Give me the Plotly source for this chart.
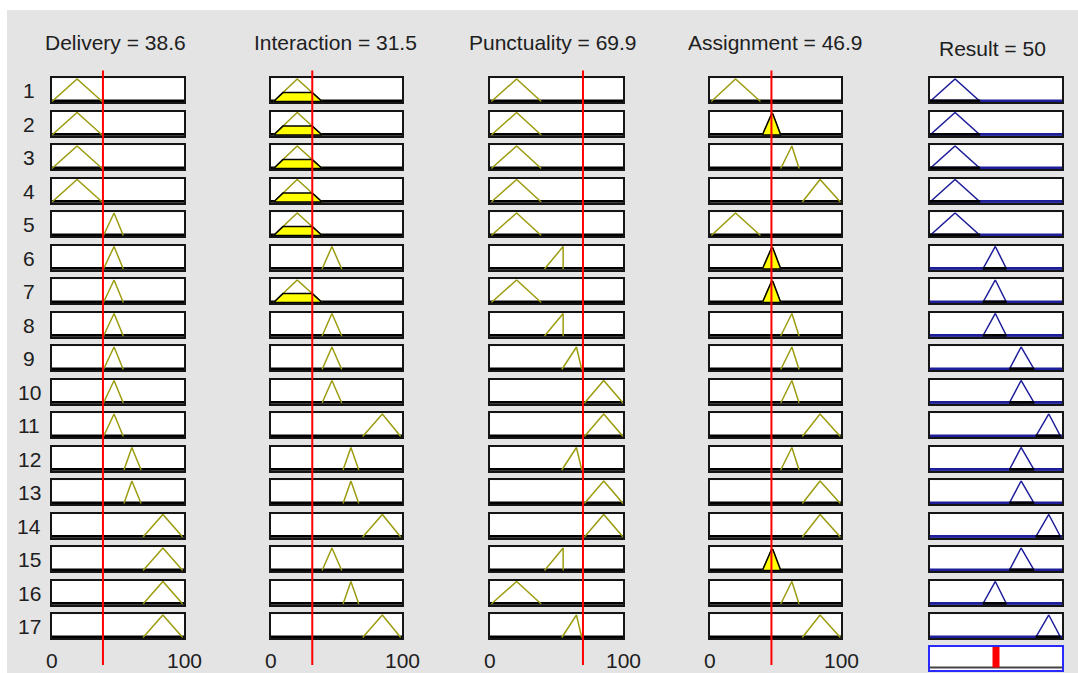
import plotly.graph_objects as go

# ---- fuzzy system description -------------------------------------------
INPUT_NAMES = ["Delivery", "Interaction", "Punctuality", "Assignment"]
INPUT_VALUES = [38.6, 31.5, 69.9, 46.9]
OUTPUT_NAME = "Result"
OUTPUT_VALUE = 50

# triangular membership functions [a, b, c]
delivery_mfs = {"low": [0, 19, 38], "mid": [39, 47, 54], "good": [54.5, 60.5, 67.5], "high": [69, 84, 99]}
interaction_mfs = {"low": [2, 20, 39], "mid": [39, 46.5, 54], "good": [55, 61, 67], "high": [70, 85, 99]}
punctuality_mfs = {"low": [1, 20, 38.5], "mid": [41, 55, 55], "good": [54, 65, 69], "high": [71, 85.5, 100]}
assignment_mfs = {"low": [1, 19.5, 38.5], "mid": [40, 47.5, 54], "good": [54, 62.5, 68], "high": [70.5, 84, 99.5]}
result_mfs = {"low": [0, 19, 38], "mid": [40, 49.5, 58], "good": [60, 69, 79], "high": [80, 90, 99]}

# rule base (one entry per rule, 17 rules)
delivery_rules = ["low"] * 4 + ["mid"] * 7 + ["good"] * 2 + ["high"] * 4
interaction_rules = ["low"] * 5 + ["mid", "low", "mid", "mid", "mid", "high", "good",
                                   "good", "high", "mid", "good", "high"]
punctuality_rules = ["low"] * 5 + ["mid", "low", "mid", "good", "high", "high", "good",
                                   "high", "high", "mid", "low", "good"]
assignment_rules = ["low", "mid", "good", "high", "low", "mid", "mid", "good", "good",
                    "good", "high", "good", "high", "high", "mid", "good", "high"]
result_rules = ["low"] * 5 + ["mid"] * 3 + ["good"] * 2 + ["high", "good", "good", "high",
                                                           "good", "mid", "high"]

AXIS_TICKS = [0, 100]

input_mfs = [delivery_mfs, interaction_mfs, punctuality_mfs, assignment_mfs]
input_rules = [delivery_rules, interaction_rules, punctuality_rules, assignment_rules]
N_RULES = len(delivery_rules)


def trimf(x, p):
    a, b, c = p
    if x <= a or x >= c:
        return 1.0 if (x == b and b in (a, c)) else 0.0
    if x <= b:
        return (x - a) / (b - a) if b > a else 1.0
    return (c - x) / (c - b) if c > b else 1.0


def clipped(p, d):
    a, b, c = p
    xl = a + (b - a) * d
    xr = c - (c - b) * d
    return [a, xl, xr, c, a], [0, d, d, 0, 0]


# ---- layout geometry (pixels) -------------------------------------------
W, H = 1078, 673
BG = "#e4e4e4"
OLIVE = "#9c9c10"
NAVY = "#1e1e9a"
TXT = "#202020"
FONT = "Liberation Sans, Arial, sans-serif"

col_x = [(52, 184), (271, 402), (490, 623), (710, 841), (930, 1062)]
ROW_TOP0, PITCH, BOX_H = 78.3, 33.5, 24.0
YR = [-0.035, 1.03]


def fx(p):
    return p / W


def fy(p):
    return 1 - p / H


fig = go.Figure()
layout = dict(
    width=W, height=H, margin=dict(l=0, r=0, t=0, b=0),
    paper_bgcolor=BG, plot_bgcolor="white", showlegend=False,
    font=dict(family=FONT, size=21, color=TXT),
)

axis_common = dict(showline=True, mirror=True, linecolor="#151515", linewidth=2,
                   showgrid=False, zeroline=False, showticklabels=False, ticks="",
                   fixedrange=True)


def add_axes(n, x0, x1, top, bottom, yr, **kw):
    sx = "" if n == 1 else str(n)
    ax = dict(axis_common)
    ax.update(kw)
    layout["xaxis" + sx] = dict(ax, domain=[fx(x0), fx(x1)], range=[0, 100], anchor="y" + sx)
    layout["yaxis" + sx] = dict(ax, domain=[fy(bottom), fy(top)], range=yr, anchor="x" + sx)
    return "x" + sx, "y" + sx


degrees = [[trimf(INPUT_VALUES[c], input_mfs[c][input_rules[c][r]]) for r in range(N_RULES)]
           for c in range(4)]

annotations = []
shapes = []

for c in range(5):
    x0, x1 = col_x[c]
    for r in range(N_RULES):
        n = c * N_RULES + r + 1
        top = ROW_TOP0 + r * PITCH
        xa, ya = add_axes(n, x0, x1, top, top + BOX_H, YR)
        if c < 4:
            p = input_mfs[c][input_rules[c][r]]
            d = degrees[c][r]
            fig.add_trace(go.Scatter(x=[0, 100], y=[0, 0], mode="lines", xaxis=xa, yaxis=ya,
                                     line=dict(color="black", width=4), hoverinfo="skip"))
            fig.add_trace(go.Scatter(x=p, y=[0, 1, 0], mode="lines", xaxis=xa, yaxis=ya,
                                     line=dict(color=OLIVE, width=1.5), hoverinfo="skip"))
            if d > 0:
                px, py = clipped(p, d)
                fig.add_trace(go.Scatter(x=px, y=py, mode="lines", fill="toself",
                                         fillcolor="#ffff00", xaxis=xa, yaxis=ya,
                                         line=dict(color="black", width=1.5), hoverinfo="skip"))
        else:
            p = result_mfs[result_rules[r]]
            fire = min(degrees[k][r] for k in range(4))
            fig.add_trace(go.Scatter(x=[0, p[0], p[1], p[2], 100], y=[0, 0, 1, 0, 0],
                                     mode="lines", xaxis=xa, yaxis=ya,
                                     line=dict(color=NAVY, width=1.5), hoverinfo="skip"))
            fig.add_trace(go.Scatter(x=[0, 100], y=[0, 0], mode="lines", xaxis=xa, yaxis=ya,
                                     line=dict(color=NAVY, width=4), hoverinfo="skip"))
            px, py = clipped(p, fire)
            if fire > 0:
                fig.add_trace(go.Scatter(x=px, y=py, mode="lines", fill="toself",
                                         fillcolor="#ffff00", xaxis=xa, yaxis=ya,
                                         line=dict(color="black", width=1.5), hoverinfo="skip"))
            else:
                fig.add_trace(go.Scatter(x=[p[0], p[2]], y=[0, 0], mode="lines",
                                         xaxis=xa, yaxis=ya,
                                         line=dict(color="black", width=4), hoverinfo="skip"))

# aggregated output box with the defuzzified value
agg_n = 5 * N_RULES + 1
xa, ya = add_axes(agg_n, 930, 1062, 647, 670, [-0.12, 1.0], linecolor="#2a2aff")
fig.add_trace(go.Scatter(x=[0, 100], y=[0, 0], mode="lines", xaxis=xa, yaxis=ya,
                         line=dict(color="#444444", width=2), hoverinfo="skip"))
fig.add_trace(go.Scatter(x=[OUTPUT_VALUE, OUTPUT_VALUE], y=[0, 1], mode="lines",
                         xaxis=xa, yaxis=ya, line=dict(color="#ff0000", width=7),
                         hoverinfo="skip"))

# input value cursors
for c in range(4):
    n = c * N_RULES + 1
    sx = "x" if n == 1 else "x" + str(n)
    shapes.append(dict(type="line", xref=sx, yref="paper",
                       x0=INPUT_VALUES[c], x1=INPUT_VALUES[c], y0=fy(665), y1=fy(70.5),
                       line=dict(color="#ff0000", width=2), layer="above"))

# light frame strips around the panel
shapes.append(dict(type="rect", xref="paper", yref="paper", x0=0, x1=1, y0=fy(10), y1=1,
                   fillcolor="white", line=dict(width=0), layer="below"))
shapes.append(dict(type="rect", xref="paper", yref="paper", x0=0, x1=fx(7), y0=0, y1=1,
                   fillcolor="white", line=dict(width=0), layer="below"))

# titles
title_x = [115, 335, 553, 775]
for c in range(4):
    annotations.append(dict(text=f"{INPUT_NAMES[c]} = {INPUT_VALUES[c]}", x=fx(title_x[c]),
                            y=fy(42), xref="paper", yref="paper", showarrow=False,
                            xanchor="center", yanchor="middle"))
annotations.append(dict(text=f"{OUTPUT_NAME} = {OUTPUT_VALUE}", x=fx(992.5), y=fy(49),
                        xref="paper", yref="paper", showarrow=False,
                        xanchor="center", yanchor="middle"))

# rule numbers
for r in range(N_RULES):
    top = ROW_TOP0 + r * PITCH
    annotations.append(dict(text=str(r + 1), x=fx(29), y=fy(top + BOX_H / 2 + 0.5),
                            xref="paper", yref="paper", showarrow=False,
                            xanchor="center", yanchor="middle"))

# range labels under the input columns
for c in range(4):
    n = (c + 1) * N_RULES
    for t in AXIS_TICKS:
        annotations.append(dict(text=str(t), x=t, y=fy(660), xref="x" + str(n), yref="paper",
                                showarrow=False, xanchor="center", yanchor="middle"))

layout["annotations"] = annotations
layout["shapes"] = shapes
fig.update_layout(**layout)
fig.write_html("out.html")
